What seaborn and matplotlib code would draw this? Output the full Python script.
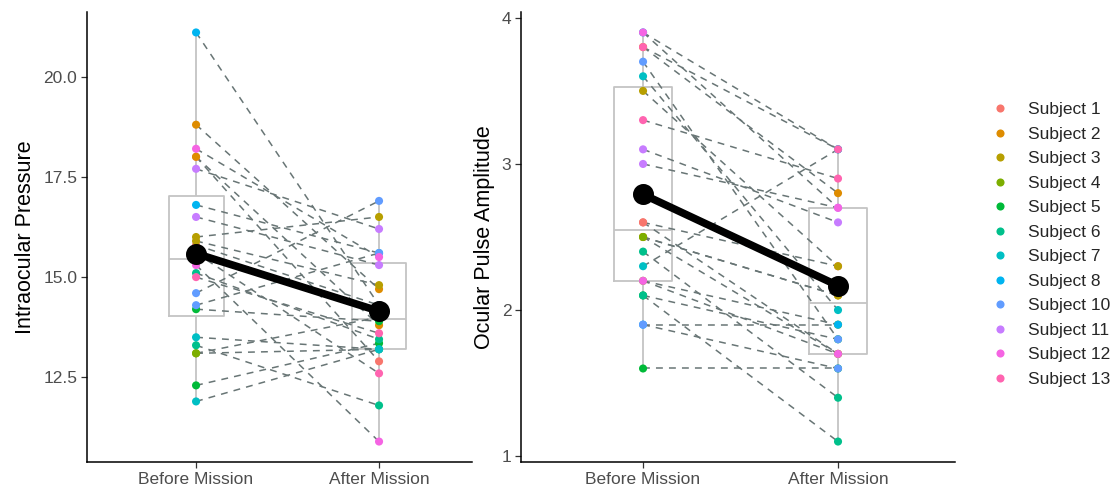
import seaborn as sns
import matplotlib.pyplot as plt
import pandas as pd

# one entry per eye (two eyes per subject)
subjects = ['Subject 1', 'Subject 1', 'Subject 2', 'Subject 2', 'Subject 3', 'Subject 3',
            'Subject 4', 'Subject 4', 'Subject 5', 'Subject 5', 'Subject 6', 'Subject 6',
            'Subject 7', 'Subject 7', 'Subject 8', 'Subject 8', 'Subject 10', 'Subject 10',
            'Subject 11', 'Subject 11', 'Subject 12', 'Subject 12', 'Subject 13', 'Subject 13']
subject_order = ['Subject 1', 'Subject 2', 'Subject 3', 'Subject 4', 'Subject 5', 'Subject 6',
                 'Subject 7', 'Subject 8', 'Subject 10', 'Subject 11', 'Subject 12', 'Subject 13']
times = ['Before Mission', 'After Mission']

iop_before = [15.8, 18.0, 18.8, 18.0, 16.0, 15.9, 13.1, 13.1, 14.2, 12.3, 15.1, 13.3,
              13.5, 11.9, 21.1, 16.8, 14.6, 14.3, 17.7, 16.5, 18.2, 15.3, 15.0, 15.6]
iop_after = [14.3, 12.9, 14.7, 13.8, 16.5, 14.8, 14.0, 13.2, 13.9, 13.35, 13.45, 11.8,
             13.2, 13.2, 14.3, 15.6, 16.9, 15.6, 16.2, 15.3, 15.5, 10.9, 13.6, 12.6]
opa_before = [2.6, 2.6, 3.8, 2.5, 3.5, 2.5, 2.5, 2.2, 1.6, 2.1, 2.4, 2.1,
              3.6, 2.3, 3.9, 1.9, 3.7, 1.9, 3.1, 3.0, 3.9, 2.2, 3.8, 3.3]
opa_after = [1.7, 2.3, 2.8, 2.1, 2.3, 2.1, 1.7, 1.9, 1.6, 1.8, 1.4, 1.1,
             2.0, 3.1, 3.1, 1.9, 1.8, 1.6, 2.6, 2.7, 2.7, 1.7, 3.1, 2.9]

colors = ['#F8766D', '#DE8C00', '#B79F00', '#7CAE00', '#00BA38', '#00C08B',
          '#00BFC4', '#00B4F0', '#619CFF', '#C77CFF', '#F564E3', '#FF64B0']


def long_table(before, after):
    rows = []
    for i, s in enumerate(subjects):
        rows.append({'eye': i, 'subject': s, 'time': times[0], 'pos': 0, 'value': before[i]})
        rows.append({'eye': i, 'subject': s, 'time': times[1], 'pos': 1, 'value': after[i]})
    return pd.DataFrame(rows)


sns.set_style("white")
plt.rcParams['font.family'] = ['Liberation Sans', 'DejaVu Sans']

fig = plt.figure(figsize=(11.14, 4.9), dpi=100)
ax1 = fig.add_axes([87 / 1114, 28 / 490, 385 / 1114, 450 / 490])
ax2 = fig.add_axes([521 / 1114, 28 / 490, 434 / 1114, 450 / 490])

panels = [(ax1, long_table(iop_before, iop_after), 'Intraocular Pressure',
           [12.5, 15.0, 17.5, 20.0], '{:.1f}', (-0.596, 1.508)),
          (ax2, long_table(opa_before, opa_after), 'Ocular Pulse Amplitude',
           [1, 2, 3, 4], '{:.0f}', (-0.626, 1.6))]

for ax, df, label, ticks, fmt, xlim in panels:
    sns.boxplot(data=df, x='time', y='value', order=times, width=0.3, fill=False,
                color='#c4c4c4', linewidth=1.3, showfliers=False, showcaps=False, ax=ax)
    sns.scatterplot(data=df, x='pos', y='value', hue='subject', hue_order=subject_order,
                    palette=colors, s=34, edgecolor='none', linewidth=0, zorder=3, ax=ax)
    sns.lineplot(data=df, x='pos', y='value', units='eye', estimator=None, color='#687575',
                 linewidth=1.1, linestyle=(0, (4.5, 4)), zorder=4, legend=False, ax=ax)
    sns.pointplot(data=df, x='time', y='value', order=times, color='black', errorbar=None,
                  markersize=11, linewidth=5.5, ax=ax)
    ax.collections[-1].set_zorder(6)
    ax.lines[-1].set_zorder(6)

    lo, hi = df['value'].min(), df['value'].max()
    pad = (hi - lo) * 0.05
    ax.set_ylim(lo - pad, hi + pad)
    ax.set_xlim(*xlim)
    ax.set_xticks([0, 1])
    ax.set_xticklabels(times)
    ax.set_yticks(ticks)
    ax.set_yticklabels([fmt.format(t) for t in ticks])
    ax.set_xlabel('')
    ax.set_ylabel(label, fontsize=15.5, color='black', labelpad=5)
    ax.tick_params(axis='both', labelcolor='#4d4d4d', labelsize=12.5, length=4, width=0.9,
                   color='#333333', direction='out', left=True, bottom=True, pad=3)
    sns.despine(ax=ax)
    for side in ['left', 'bottom']:
        ax.spines[side].set_color('black')
        ax.spines[side].set_linewidth(1.1)

ax1.get_legend().remove()
handles, labels = ax2.get_legend_handles_labels()
ax2.get_legend().remove()
fig.legend(handles, labels, loc='upper left', bbox_to_anchor=(976 / 1114, 1 - 95 / 490),
           frameon=False, fontsize=12.5, markerscale=1.0, handletextpad=0.6,
           labelspacing=0.54, borderaxespad=0)

fig.savefig('out.png', dpi=100)
